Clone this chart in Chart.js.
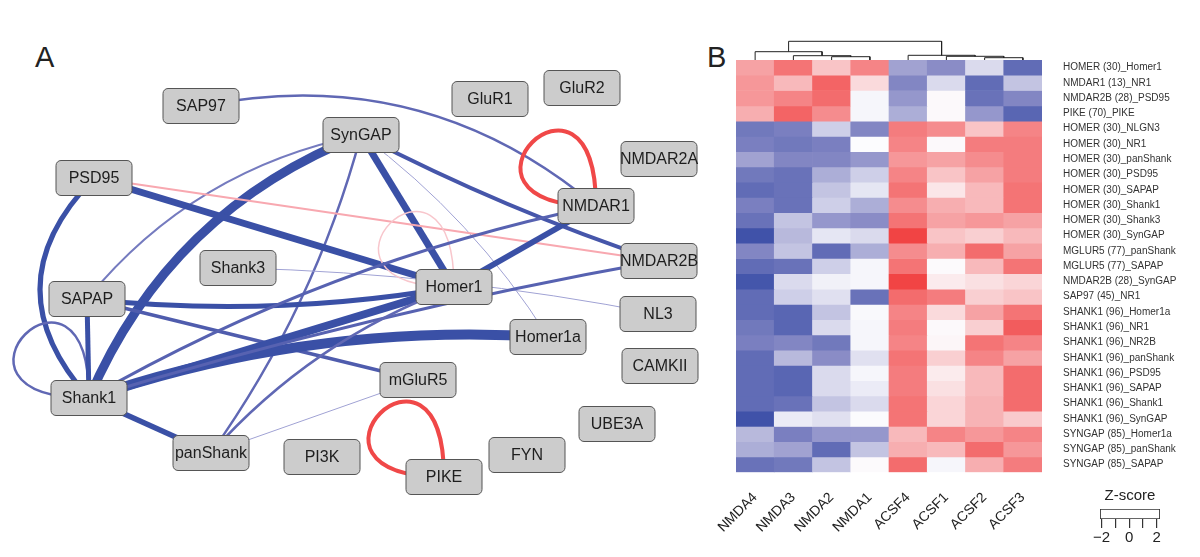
<!DOCTYPE html>
<html>
<head>
<meta charset="utf-8">
<script src="https://cdn.jsdelivr.net/npm/chart.js@4.4.1/dist/chart.umd.min.js"></script>
<style>
  body { margin: 0; background: #fff; width: 1200px; height: 557px; overflow: hidden; position: relative;
         font-family: "Liberation Sans", Arial, sans-serif; }
  canvas { position: absolute; }
  .panel { position: absolute; font-size: 29px; line-height: 29px; color: #222; }
</style>
</head>
<body>
<div class="panel" style="left:35px;top:43px">A</div>
<div class="panel" style="left:707px;top:43px">B</div>
<canvas id="net" width="700" height="557" style="left:0;top:0"></canvas>
<canvas id="dendro" width="306" height="26" style="left:736px;top:35px"></canvas>
<canvas id="heat" width="500" height="527" style="left:700px;top:30px"></canvas>
<canvas id="key" width="100" height="62" style="left:1080px;top:487px"></canvas>
<script>
const FONT = '"Liberation Sans", Arial, sans-serif';
Chart.defaults.font.family = FONT;

// ---- panel A: network ----
const nodeNames = ["SAP97", "SynGAP", "PSD95", "Shank3", "SAPAP", "Shank1", "panShank", "PI3K", "mGluR5", "PIKE",
  "FYN", "UBE3A", "CAMKII", "NL3", "Homer1a", "Homer1", "NMDAR2B", "NMDAR1", "NMDAR2A", "GluR1", "GluR2"];
const nodeX = [201, 361, 94, 238, 87, 89, 211, 322, 418, 444, 527, 617, 660, 658, 548, 454, 659, 596, 659, 490, 582];
const nodeY = [106, 135, 178, 268, 299, 398, 453, 457, 380, 477, 455, 424, 366, 314, 337, 287, 261, 206, 159, 99, 88];

const edgeFrom = ["SAP97", "SynGAP", "SynGAP", "SynGAP", "SynGAP", "SynGAP", "SynGAP", "PSD95", "PSD95", "PSD95",
  "Shank3", "Homer1", "NMDAR1", "PIKE", "Shank1", "SAPAP", "SAPAP", "SAPAP", "Shank1", "Shank1",
  "Shank1", "Shank1", "Shank1", "Homer1", "panShank", "panShank"];
const edgeTo = ["NMDAR1", "Shank1", "SAPAP", "Homer1", "NMDAR2B", "panShank", "Homer1a", "Homer1", "NMDAR2B", "Shank1",
  "NL3", "Homer1", "NMDAR1", "PIKE", "Shank1", "Shank1", "Homer1", "mGluR5", "Homer1", "Homer1a",
  "NMDAR2B", "NMDAR1", "panShank", "NMDAR1", "mGluR5", "Homer1"];
// signed strength: negative = blue, positive = red
const edgeWeight = [-2.5, -9, -2, -7, -4, -2.5, -1, -7, 2, -5,
  -1, 1.5, 4, 4, -2.5, -5, -5, -3.5, -8, -10,
  -3, -3, -5.5, -6, -1, -2.5];
const edgeBend = [-0.12, 0.105, 0.09, 0, 0.02, -0.045, -0.047, 0, 0, 0.234,
  -0.021, 0, 0, 0, 0, 0, 0.035, 0, 0, -0.05,
  -0.015, -0.04, 0, 0, 0, -0.062];

// ---- panel B: heatmap ----
const columns = ["NMDA4", "NMDA3", "NMDA2", "NMDA1", "ACSF4", "ACSF1", "ACSF2", "ACSF3"];
const rowLabels = ["HOMER (30)_Homer1", "NMDAR1 (13)_NR1", "NMDAR2B (28)_PSD95", "PIKE (70)_PIKE",
  "HOMER (30)_NLGN3", "HOMER (30)_NR1", "HOMER (30)_panShank", "HOMER (30)_PSD95", "HOMER (30)_SAPAP",
  "HOMER (30)_Shank1", "HOMER (30)_Shank3", "HOMER (30)_SynGAP", "MGLUR5 (77)_panShank", "MGLUR5 (77)_SAPAP",
  "NMDAR2B (28)_SynGAP", "SAP97 (45)_NR1", "SHANK1 (96)_Homer1a", "SHANK1 (96)_NR1", "SHANK1 (96)_NR2B",
  "SHANK1 (96)_panShank", "SHANK1 (96)_PSD95", "SHANK1 (96)_SAPAP", "SHANK1 (96)_Shank1", "SHANK1 (96)_SynGAP",
  "SYNGAP (85)_Homer1a", "SYNGAP (85)_panShank", "SYNGAP (85)_SAPAP"];
const zNMDA4 = [0.8, 0.9, 0.9, 0.7, -1.3, -1.2, -0.8, -1.3, -1.5, -1.2, -1.4, -1.9, -1.1, -1.5, -1.85, -1.5, -1.5, -1.3, -1.2, -1.5, -1.5, -1.5, -1.5, -1.9, -0.6, -0.7, -1.4];
const zNMDA3 = [1.3, 0.6, 1.1, 1.5, -1.2, -1.3, -1.1, -1.4, -1.4, -1.4, -0.5, -0.6, -0.5, -1.4, -0.3, -0.4, -1.6, -1.6, -1.1, -0.6, -1.6, -1.6, -1.4, -0.15, -1.2, -0.8, -1.3];
const zNMDA2 = [0.5, 1.5, 1.4, 1.0, -0.4, -1.2, -1.1, -0.7, -0.5, -0.4, -0.9, -0.2, -1.5, -0.4, -0.1, -0.25, -0.5, -0.3, -1.3, -1.0, -0.3, -0.3, -0.5, -0.25, -0.9, -1.5, -0.5];
const zNMDA1 = [1.1, 0.3, -0.05, -0.05, -1.1, 0.0, -0.9, -0.4, -0.2, -0.7, -1.0, -0.3, -0.7, -0.05, -0.05, -1.4, -0.03, -0.05, -0.05, -0.25, -0.05, -0.15, -0.3, -0.01, -0.9, -0.5, 0.02];
const zACSF4 = [-0.8, -1.1, -0.9, -0.7, 1.2, 1.1, 0.9, 1.1, 1.3, 1.0, 1.3, 1.9, 1.0, 1.3, 1.9, 1.4, 1.1, 1.2, 1.1, 1.3, 1.2, 1.2, 1.3, 1.3, 0.6, 0.7, 1.4];
const zACSF1 = [-1.0, -0.3, 0.03, 0.03, 1.0, 0.03, 0.8, 0.5, 0.2, 0.7, 0.8, 0.5, 0.7, 0.02, 0.15, 1.2, 0.3, 0.03, 0.05, 0.4, 0.15, 0.25, 0.35, 0.35, 1.1, 0.6, -0.05];
const zACSF2 = [-0.3, -1.5, -1.4, -0.9, 0.5, 1.2, 1.0, 0.8, 0.6, 0.6, 0.9, 0.4, 1.4, 0.6, 0.25, 0.4, 0.8, 0.4, 1.3, 1.1, 0.6, 0.6, 0.65, 0.65, 0.9, 1.4, 0.7];
const zACSF3 = [-1.5, -0.5, -1.1, -1.6, 1.1, 1.2, 1.2, 1.2, 1.3, 1.3, 0.8, 0.6, 0.8, 1.3, 0.35, 0.5, 1.3, 1.6, 1.1, 0.8, 1.4, 1.4, 1.4, 0.45, 1.1, 0.9, 1.2];

// column dendrogram: leaves are column indexes, -(k+1) means merge k
const mergeA = [2, 1, 0, 6, 5, 4, -3];
const mergeB = [3, -1, -2, 7, -4, -5, -6];
const mergeHeight = [3.3, 4.3, 8.3, 2.3, 3.7, 4.7, 18.7];

const keyTicks = [-2, -1, 0, 1, 2];

// colour helpers
function mix(stops, v) {
  if (v <= stops[0][0]) return stops[0][1];
  for (let i = 1; i < stops.length; i++) {
    if (v <= stops[i][0]) {
      const [v0, c0] = stops[i - 1], [v1, c1] = stops[i];
      const t = (v - v0) / (v1 - v0);
      return c0.map((c, k) => Math.round(c + (c1[k] - c) * t));
    }
  }
  return stops[stops.length - 1][1];
}
const zStops = [[-2, [56, 76, 166]], [-1, [138, 140, 198]], [0, [252, 252, 254]], [1, [245, 140, 142]], [2, [240, 60, 60]]];
const zColor = v => `rgb(${mix(zStops, v).join(',')})`;
const negStops = [[1, [160, 162, 212]], [2.5, [96, 104, 180]], [4, [70, 86, 170]], [5, [58, 80, 166]]];
const posStops = [[1.5, [248, 198, 204]], [2, [248, 168, 176]], [4, [240, 72, 72]]];
const edgeColor = w => `rgb(${mix(w < 0 ? negStops : posStops, Math.abs(w)).join(',')})`;

// ---- network chart ----
const LOOP = 170;
const netPlugin = {
  id: 'netPlugin',
  beforeDatasetsDraw(chart) {
    const { ctx, scales: { x, y } } = chart;
    const px = i => [x.getPixelForValue(nodeX[i]), y.getPixelForValue(nodeY[i])];
    ctx.save();
    ctx.lineCap = 'butt';
    edgeFrom.forEach((f, k) => {
      const a = nodeNames.indexOf(f), b = nodeNames.indexOf(edgeTo[k]);
      const w = edgeWeight[k];
      ctx.strokeStyle = edgeColor(w);
      ctx.lineWidth = Math.abs(w);
      const [x0, y0] = px(a);
      ctx.beginPath();
      ctx.moveTo(x0, y0);
      if (a === b) {
        ctx.bezierCurveTo(x0 - LOOP, y0, x0, y0 - LOOP, x0, y0);
      } else {
        const [x1, y1] = px(b);
        const dx = x1 - x0, dy = y1 - y0;
        const cx = (x0 + x1) / 2 - dy * edgeBend[k] * 2;
        const cy = (y0 + y1) / 2 + dx * edgeBend[k] * 2;
        ctx.quadraticCurveTo(cx, cy, x1, y1);
      }
      ctx.stroke();
    });
    ctx.restore();
  },
  afterDatasetsDraw(chart) {
    const { ctx } = chart;
    const meta = chart.getDatasetMeta(0);
    ctx.save();
    ctx.font = '16px ' + FONT;
    ctx.textAlign = 'center';
    ctx.textBaseline = 'middle';
    meta.data.forEach((pt, i) => {
      const w = 76, h = 35;
      ctx.beginPath();
      ctx.roundRect(pt.x - w / 2, pt.y - h / 2, w, h, 5);
      ctx.fillStyle = '#cccccc';
      ctx.fill();
      ctx.strokeStyle = '#555';
      ctx.lineWidth = 1;
      ctx.stroke();
      ctx.fillStyle = '#1e1e1e';
      ctx.fillText(nodeNames[i], pt.x, pt.y + 1);
    });
    ctx.restore();
  }
};

new Chart(document.getElementById('net'), {
  type: 'scatter',
  data: { datasets: [{ data: nodeNames.map((n, i) => ({ x: nodeX[i], y: nodeY[i] })), pointRadius: 0 }] },
  options: {
    responsive: false, animation: false,
    plugins: { legend: { display: false }, tooltip: { enabled: false } },
    scales: {
      x: { type: 'linear', min: 0, max: 700, display: false },
      y: { type: 'linear', min: 0, max: 557, reverse: true, display: false }
    }
  },
  plugins: [netPlugin]
});

// ---- dendrogram ----
const dendroPos = i => i >= 0 ? { x: i + 0.5, h: 0 } : mergePos[-i - 1];
const mergePos = [];
mergeA.forEach((a, k) => {
  const pa = dendroPos(a), pb = dendroPos(mergeB[k]);
  mergePos.push({ x: (pa.x + pb.x) / 2, h: mergeHeight[k], a: pa, b: pb });
});
new Chart(document.getElementById('dendro'), {
  type: 'scatter',
  data: {
    datasets: mergePos.map(m => ({
      data: [{ x: m.a.x, y: m.a.h }, { x: m.a.x, y: m.h }, { x: m.b.x, y: m.h }, { x: m.b.x, y: m.b.h }],
      showLine: true, borderColor: '#222', borderWidth: 1, pointRadius: 0, clip: false
    }))
  },
  options: {
    responsive: false, animation: false,
    plugins: { legend: { display: false }, tooltip: { enabled: false } },
    scales: {
      x: { type: 'linear', min: 0, max: 8, display: false },
      y: { type: 'linear', min: -1, max: 25, display: false }
    }
  }
});

// ---- heatmap ----
const zCols = [zNMDA4, zNMDA3, zNMDA2, zNMDA1, zACSF4, zACSF1, zACSF2, zACSF3];
new Chart(document.getElementById('heat'), {
  type: 'bar',
  data: {
    labels: columns,
    datasets: rowLabels.map((lab, r) => ({
      label: lab,
      data: columns.map(() => [r, r + 1]),
      backgroundColor: zCols.map(col => zColor(col[r])),
      borderWidth: 0,
      grouped: false,
      barPercentage: 1,
      categoryPercentage: 1
    }))
  },
  options: {
    responsive: false, animation: false,
    layout: { padding: { left: 36, top: 30 } },
    plugins: { legend: { display: false }, tooltip: { enabled: false } },
    scales: {
      x: {
        grid: { display: false, drawTicks: false }, border: { display: false },
        ticks: { maxRotation: 45, minRotation: 45, autoSkip: false, padding: 17, color: '#222', font: { size: 14 } },
        afterFit(s) { s.height = 84.7; }
      },
      y: {
        position: 'right', min: 0, max: rowLabels.length, reverse: true,
        grid: { display: false, drawTicks: false }, border: { display: false },
        afterBuildTicks(s) { s.ticks = rowLabels.map((_, i) => ({ value: i + 0.5 })); },
        ticks: { autoSkip: false, padding: 21, color: '#333', font: { size: 10 }, callback: (v, i) => rowLabels[i] },
        afterFit(s) { s.width = 158; }
      }
    }
  }
});

// ---- colour key ----
new Chart(document.getElementById('key'), {
  type: 'bar',
  data: {
    labels: ['Z-score'],
    datasets: [{ data: [[-2.12, 2.24]], backgroundColor: '#fff', borderColor: '#333', borderWidth: 1.2,
      borderSkipped: false, barPercentage: 1, categoryPercentage: 1 }]
  },
  options: {
    indexAxis: 'y', responsive: false, animation: false,
    layout: { padding: { left: 20, right: 20 } },
    plugins: {
      legend: { display: false }, tooltip: { enabled: false },
      title: { display: true, text: 'Z-score', color: '#222', font: { size: 15, weight: 'normal' }, padding: { top: 0, bottom: 4 } }
    },
    scales: {
      y: { display: false },
      x: {
        min: -2.12, max: 2.24,
        afterBuildTicks(s) { s.ticks = keyTicks.map(v => ({ value: v })); },
        grid: { drawOnChartArea: false, drawTicks: true, tickLength: 9, color: '#333', lineWidth: 1.2 },
        border: { display: false },
        ticks: { autoSkip: false, maxRotation: 0, padding: 1, color: '#222', font: { size: 15 },
          callback: v => (v % 2 === 0 ? String(v).replace('-', '\u2212') : '') },
        afterFit(s) { s.height = 30; }
      }
    }
  }
});
</script>
</body>
</html>
